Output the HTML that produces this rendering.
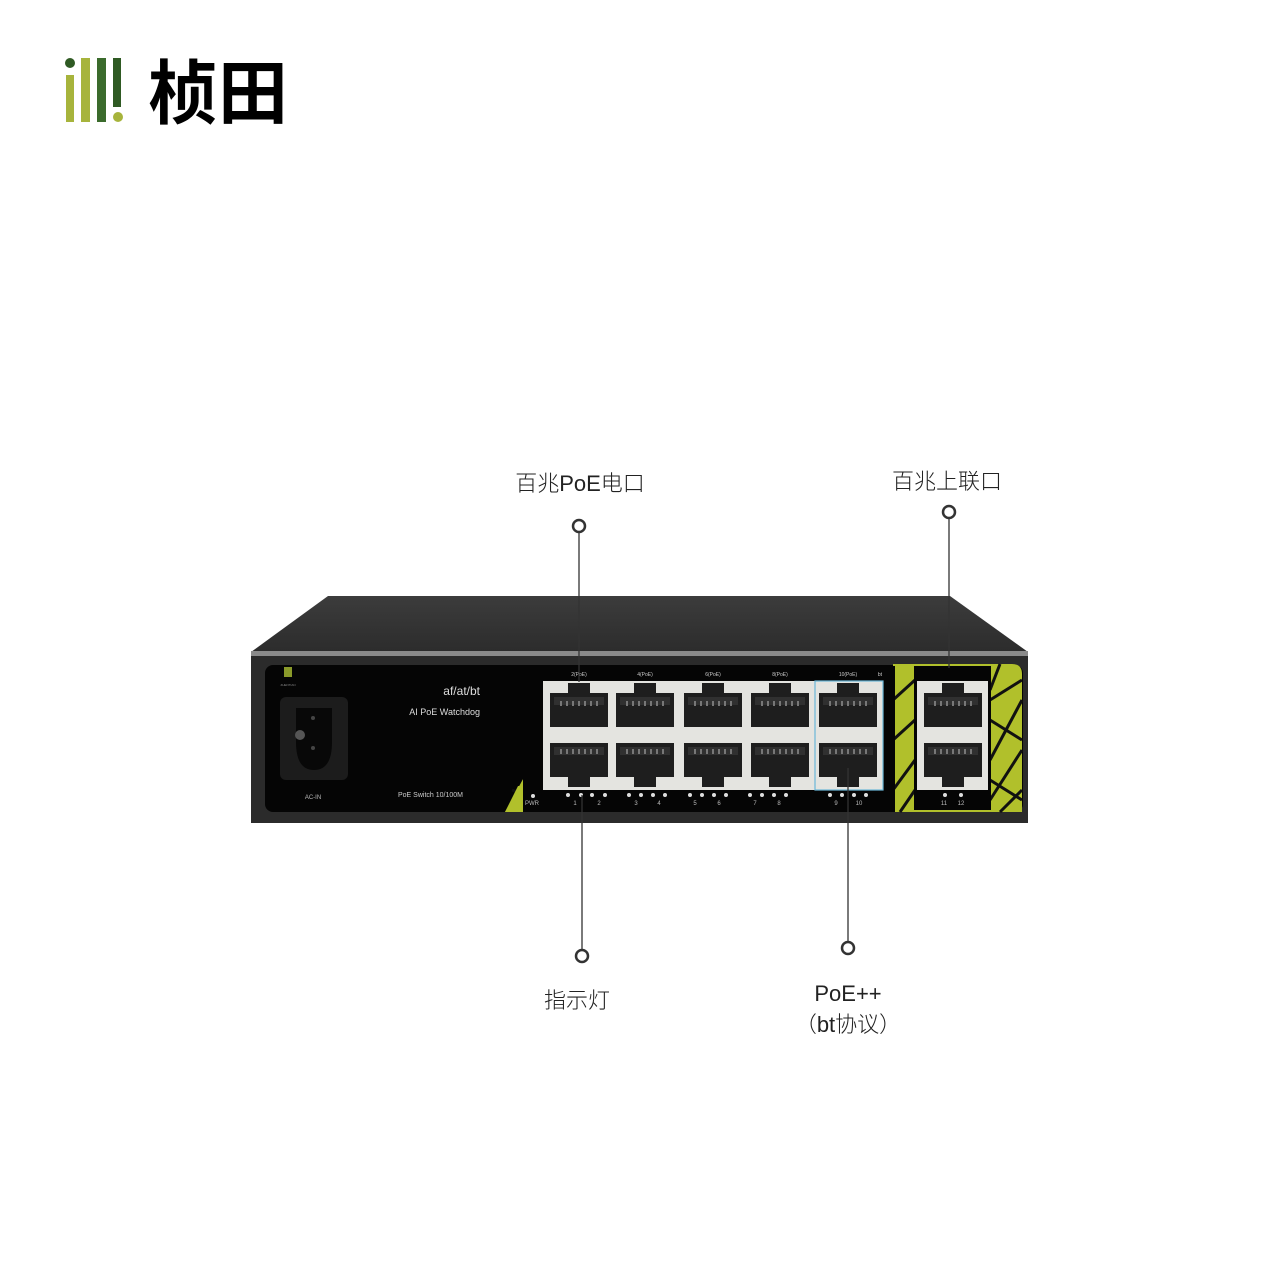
<!DOCTYPE html>
<html><head><meta charset="utf-8"><style>
html,body{margin:0;padding:0;background:#fff;}
svg{display:block}
text{font-family:"Liberation Sans","Noto Sans CJK SC",sans-serif;}
</style></head><body>
<svg width="1280" height="1280" viewBox="0 0 1280 1280" xmlns="http://www.w3.org/2000/svg">
<defs>
<linearGradient id="lid" x1="0" y1="0" x2="0" y2="1"><stop offset="0" stop-color="#3c3c3c"/><stop offset="1" stop-color="#2c2c2c"/></linearGradient>
<g id="pt">
<path d="M0,10 H18 V0 H40 V10 H58 V44 H0 Z" fill="#1e1e1e"/>
<rect x="4" y="14" width="50" height="8" fill="#303030"/>
<g fill="#777"><rect x="10" y="18" width="2" height="5"/><rect x="16" y="18" width="2" height="5"/><rect x="22" y="18" width="2" height="5"/><rect x="28" y="18" width="2" height="5"/><rect x="34" y="18" width="2" height="5"/><rect x="40" y="18" width="2" height="5"/><rect x="46" y="18" width="2" height="5"/></g>
</g>
<g id="pb">
<path d="M0,0 H58 V34 H40 V44 H18 V34 H0 Z" fill="#1e1e1e"/>
<rect x="4" y="4" width="50" height="8" fill="#303030"/>
<g fill="#777"><rect x="10" y="6" width="2" height="5"/><rect x="16" y="6" width="2" height="5"/><rect x="22" y="6" width="2" height="5"/><rect x="28" y="6" width="2" height="5"/><rect x="34" y="6" width="2" height="5"/><rect x="40" y="6" width="2" height="5"/><rect x="46" y="6" width="2" height="5"/></g>
</g>
</defs>

<!-- logo -->
<circle cx="70" cy="63" r="5" fill="#2f5a23"/>
<rect x="66" y="75" width="8" height="47" fill="#a7b43c"/>
<rect x="81" y="58" width="9" height="64" fill="#a7b43c"/>
<rect x="97" y="58" width="9" height="64" fill="#3b6b2c"/>
<rect x="113" y="58" width="8" height="49" fill="#2f5a23"/>
<circle cx="118" cy="117" r="5" fill="#a7b43c"/>
<text x="148" y="118" font-size="70" font-weight="bold" fill="#000" style="font-family:'Noto Sans CJK SC',sans-serif">桢田</text>

<!-- labels -->
<g font-size="22" fill="#222" text-anchor="middle" style="font-family:'Noto Sans CJK SC','Liberation Sans',sans-serif;font-weight:300">
<text x="580" y="491">百兆PoE电口</text>
<text x="947" y="489">百兆上联口</text>
<text x="577" y="1008">指示灯</text>
<text x="848" y="1001">PoE++</text>
<text x="848" y="1032">（bt协议）</text>
</g>

<!-- device -->
<path d="M328,596 H950 L1028,652 H251 Z" fill="url(#lid)"/>
<rect x="251" y="651" width="777" height="5" fill="#8a8a8a"/>
<rect x="251" y="656" width="777" height="167" fill="#2b2b2b"/>
<rect x="265" y="665" width="758" height="147" rx="8" fill="#050505"/>
<!-- yellow right area -->
<path d="M893,664 H1012 Q1022,664 1022,674 V812 H893 Z" fill="#b1c02b"/>
<g stroke="#111" stroke-width="3" fill="none">
<path d="M893,700 L915,680 M893,740 L915,720 M893,790 L915,760 M900,812 L915,790"/>
<path d="M990,700 L1022,680 M990,760 L1022,700 M990,800 L1022,750 M1000,812 L1022,790 M990,720 L1022,740 M990,780 L1022,800 M1000,664 L990,690"/>
</g>
<!-- yellow left triangle -->
<path d="M505,812 L540,748 V812 Z" fill="#b1c02b"/>
<path d="M512,790 L540,800" stroke="#111" stroke-width="3"/>
<!-- main ports black box -->
<rect x="523" y="666" width="372" height="146" fill="#050505"/>
<path d="M505,812 L518,786 H523 V812 Z" fill="#b1c02b"/>
<rect x="543" y="681" width="340" height="109" fill="#e4e4e0"/>
<rect x="815" y="681" width="68" height="109" fill="none" stroke="#6bb7d8" stroke-width="1.2"/>
<g font-size="5" fill="#ccc" text-anchor="middle">
<text x="579" y="676">2(PoE)</text><text x="645" y="676">4(PoE)</text><text x="713" y="676">6(PoE)</text><text x="780" y="676">8(PoE)</text><text x="848" y="676">10(PoE)</text><text x="880" y="676">bt</text>
<text x="953" y="676">12(Uplink)</text>
</g>
<use href="#pt" x="550" y="683"/><use href="#pt" x="616" y="683"/><use href="#pt" x="684" y="683"/><use href="#pt" x="751" y="683"/><use href="#pt" x="819" y="683"/>
<use href="#pb" x="550" y="743"/><use href="#pb" x="616" y="743"/><use href="#pb" x="684" y="743"/><use href="#pb" x="751" y="743"/><use href="#pb" x="819" y="743"/>
<!-- uplink -->
<rect x="914" y="666" width="77" height="144" fill="#050505"/>
<rect x="917" y="681" width="71" height="109" fill="#e4e4e0"/>
<use href="#pt" x="924" y="683"/><use href="#pb" x="924" y="743"/>
<!-- LEDs -->
<g fill="#ddd">
<circle cx="533" cy="796" r="2"/>
<circle cx="568" cy="795" r="2"/><circle cx="581" cy="795" r="2"/><circle cx="592" cy="795" r="2"/><circle cx="605" cy="795" r="2"/>
<circle cx="629" cy="795" r="2"/><circle cx="641" cy="795" r="2"/><circle cx="653" cy="795" r="2"/><circle cx="665" cy="795" r="2"/>
<circle cx="690" cy="795" r="2"/><circle cx="702" cy="795" r="2"/><circle cx="714" cy="795" r="2"/><circle cx="726" cy="795" r="2"/>
<circle cx="750" cy="795" r="2"/><circle cx="762" cy="795" r="2"/><circle cx="774" cy="795" r="2"/><circle cx="786" cy="795" r="2"/>
<circle cx="830" cy="795" r="2"/><circle cx="842" cy="795" r="2"/><circle cx="854" cy="795" r="2"/><circle cx="866" cy="795" r="2"/>
<circle cx="945" cy="795" r="2"/><circle cx="961" cy="795" r="2"/>
</g>
<g font-size="6" fill="#bbb" text-anchor="middle">
<text x="532" y="805">PWR</text><text x="575" y="805">1</text><text x="599" y="805">2</text><text x="636" y="805">3</text><text x="659" y="805">4</text><text x="695" y="805">5</text><text x="719" y="805">6</text><text x="755" y="805">7</text><text x="779" y="805">8</text><text x="836" y="805">9</text><text x="859" y="805">10</text><text x="944" y="805">11</text><text x="961" y="805">12</text>
</g>
<!-- left panel -->
<rect x="284" y="667" width="8" height="10" fill="#8a9a2a"/>
<text x="288" y="686" font-size="3" fill="#888" text-anchor="middle">ZHENTIAN</text>
<rect x="280" y="697" width="68" height="83" rx="6" fill="#1c1c1c"/>
<path d="M296,708 H332 V742 Q332,770 314,770 Q296,770 296,742 Z" fill="#080808"/>
<circle cx="300" cy="735" r="5" fill="#555"/>
<circle cx="313" cy="718" r="2" fill="#444"/><circle cx="313" cy="748" r="2" fill="#444"/>
<text x="313" y="799" font-size="6" fill="#bbb" text-anchor="middle">AC-IN</text>
<text x="480" y="695" font-size="12" fill="#ddd" text-anchor="end">af/at/bt</text>
<text x="480" y="715" font-size="9" fill="#ddd" text-anchor="end">AI PoE Watchdog</text>
<text x="398" y="797" font-size="7" fill="#ccc">PoE Switch   10/100M</text>

<!-- callouts -->
<g stroke="#333" stroke-width="1.3" fill="#fff">
<line x1="579" y1="532" x2="579" y2="682"/>
<line x1="949" y1="518" x2="949" y2="668"/>
<line x1="582" y1="795" x2="582" y2="950"/>
<line x1="848" y1="768" x2="848" y2="942"/>
<circle cx="579" cy="526" r="6" stroke-width="2.5"/>
<circle cx="949" cy="512" r="6" stroke-width="2.5"/>
<circle cx="582" cy="956" r="6" stroke-width="2.5"/>
<circle cx="848" cy="948" r="6" stroke-width="2.5"/>
</g>
</svg>
</body></html>
